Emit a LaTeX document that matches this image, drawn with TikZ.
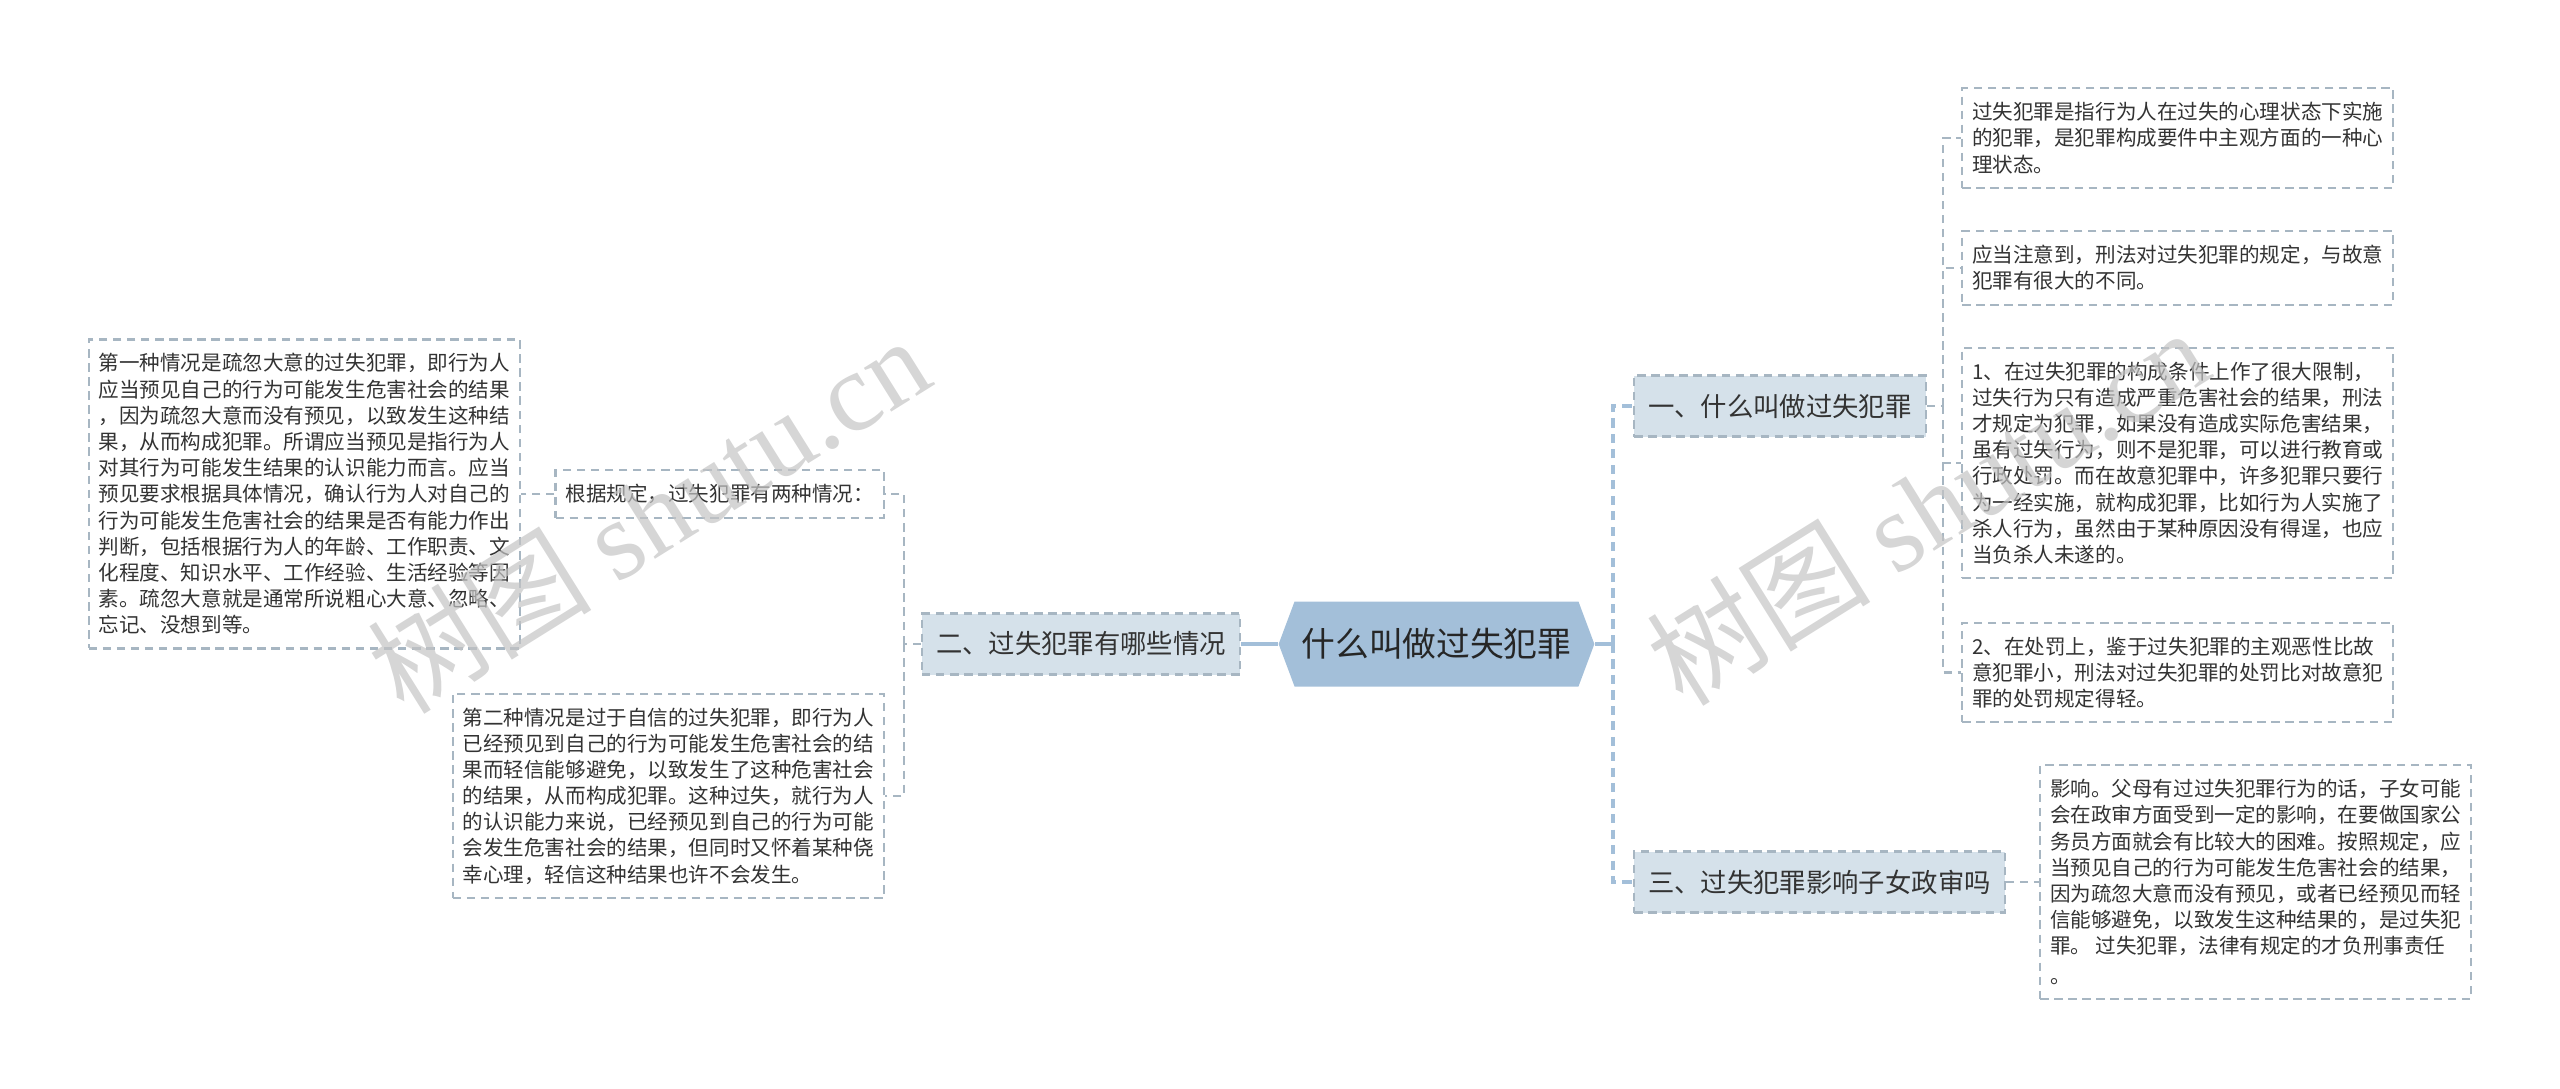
\documentclass[tikz,border=0pt]{standalone}
\usepackage{fontspec}
\setmainfont{Noto Sans CJK SC}
\newfontfamily\marklatin{Liberation Serif}
\usetikzlibrary{shapes.symbols}
\definecolor{rootblue}{HTML}{A3BFD9}
\definecolor{branchfill}{HTML}{D5E1EA}
\definecolor{dashgray}{HTML}{A7B6C2}
\definecolor{textgray}{HTML}{333333}
\definecolor{markgray}{HTML}{C4C4C4}

\begin{document}
\begin{tikzpicture}[
  textbox/.style={draw=dashgray, fill=white, line width=0.6pt, dash pattern=on 2.4pt off 1.6pt,
    align=left, inner xsep=0.1cm, inner ysep=0.14cm, text=textgray,
    font=\fontsize{5.85pt}{7.45pt}\selectfont},
  branch/.style={draw=dashgray, fill=branchfill, line width=0.6pt, dash pattern=on 2.4pt off 1.6pt,
    inner xsep=0.14cm, minimum height=0.61cm, text=textgray,
    font=\fontsize{7.5pt}{9pt}\selectfont},
  rootnode/.style={shape=signal, signal to=east and west, signal pointer angle=139,
    fill=rootblue, minimum height=0.85cm, inner xsep=0.07cm, text=black!85,
    font=\fontsize{9.6pt}{11pt}\selectfont},
  thinlink/.style={draw=dashgray, line width=0.6pt, dash pattern=on 2.4pt off 1.6pt},
  thicklink/.style={draw=rootblue, line width=1pt, dash pattern=on 2.6pt off 1.8pt},
  rootlink/.style={draw=rootblue, line width=1.1pt},
  watermark/.style={text=markgray, opacity=0.7, rotate=32, font=\fontsize{32pt}{32pt}\selectfont}
]
\useasboundingbox (0,0) rectangle (25.6,-10.88);
%
\node[rootnode](root) at (14.365,-6.44) {什么叫做过失犯罪};
%
\node[branch, anchor=east](two) at (12.41,-6.44) {二、过失犯罪有哪些情况};
\draw[rootlink](root.west) -- (two.east);
%
\node[textbox, anchor=east](rule) at (8.85,-4.94) {根据规定，过失犯罪有两种情况：};
\node[textbox, anchor=east](first) at (5.21,-4.94) {第一种情况是疏忽大意的过失犯罪，即行为人\\
应当预见自己的行为可能发生危害社会的结果\\
，因为疏忽大意而没有预见，以致发生这种结\\
果，从而构成犯罪。所谓应当预见是指行为人\\
对其行为可能发生结果的认识能力而言。应当\\
预见要求根据具体情况，确认行为人对自己的\\
行为可能发生危害社会的结果是否有能力作出\\
判断，包括根据行为人的年龄、工作职责、文\\
化程度、知识水平、工作经验、生活经验等因\\
素。疏忽大意就是通常所说粗心大意、忽略、\\
忘记、没想到等。};
\node[textbox, anchor=east](second) at (8.85,-7.96) {第二种情况是过于自信的过失犯罪，即行为人\\
已经预见到自己的行为可能发生危害社会的结\\
果而轻信能够避免，以致发生了这种危害社会\\
的结果，从而构成犯罪。这种过失，就行为人\\
的认识能力来说，已经预见到自己的行为可能\\
会发生危害社会的结果，但同时又怀着某种侥\\
幸心理，轻信这种结果也许不会发生。};
\coordinate(jleft) at (9.04,-6.44);
\draw[thinlink](two.west) -- (jleft);
\draw[thinlink](jleft) |- (rule.east);
\draw[thinlink](jleft) |- (second.east);
\draw[thinlink](rule.west) -- (first.east);
%
\node[branch, anchor=west](one) at (16.33,-4.06) {一、什么叫做过失犯罪};
\node[branch, anchor=west](three) at (16.33,-8.82) {三、过失犯罪影响子女政审吗};
\coordinate(jright) at (16.13,-6.44);
\draw[rootlink](root.east) -- (jright);
\draw[thicklink](jright) |- (one.west);
\draw[thicklink](jright) |- (three.west);
%
\node[textbox, anchor=west](ta) at (19.61,-1.38) {过失犯罪是指行为人在过失的心理状态下实施\\
的犯罪，是犯罪构成要件中主观方面的一种心\\
理状态。};
\node[textbox, anchor=west](tb) at (19.61,-2.68) {应当注意到，刑法对过失犯罪的规定，与故意\\
犯罪有很大的不同。};
\node[textbox, anchor=west](tc) at (19.61,-4.63) {1、在过失犯罪的构成条件上作了很大限制，\\
过失行为只有造成严重危害社会的结果，刑法\\
才规定为犯罪，如果没有造成实际危害结果，\\
虽有过失行为，则不是犯罪，可以进行教育或\\
行政处罚。而在故意犯罪中，许多犯罪只要行\\
为一经实施，就构成犯罪，比如行为人实施了\\
杀人行为，虽然由于某种原因没有得逞，也应\\
当负杀人未遂的。};
\node[textbox, anchor=west](td) at (19.61,-6.725) {2、在处罚上，鉴于过失犯罪的主观恶性比故\\
意犯罪小，刑法对过失犯罪的处罚比对故意犯\\
罪的处罚规定得轻。};
\coordinate(jone) at (19.43,-4.06);
\draw[thinlink](one.east) -- (jone);
\draw[thinlink](jone) |- (ta.west);
\draw[thinlink](jone) |- (tb.west);
\draw[thinlink](jone) |- (tc.west);
\draw[thinlink](jone) |- (td.west);
%
\node[textbox, anchor=west](te) at (20.39,-8.82) {影响。父母有过过失犯罪行为的话，子女可能\\
会在政审方面受到一定的影响，在要做国家公\\
务员方面就会有比较大的困难。按照规定，应\\
当预见自己的行为可能发生危害社会的结果，\\
因为疏忽大意而没有预见，或者已经预见而轻\\
信能够避免，以致发生这种结果的，是过失犯\\
罪。 过失犯罪，法律有规定的才负刑事责任\\[1pt]
。};
\draw[thinlink](three.east) -- (te.west);
%
\node[watermark](markleft) at (6.48,-5.14) {树图 {\marklatin shutu.cn}};
\node[watermark](markright) at (19.27,-5.06) {树图 {\marklatin shutu.cn}};
\end{tikzpicture}
\end{document}
